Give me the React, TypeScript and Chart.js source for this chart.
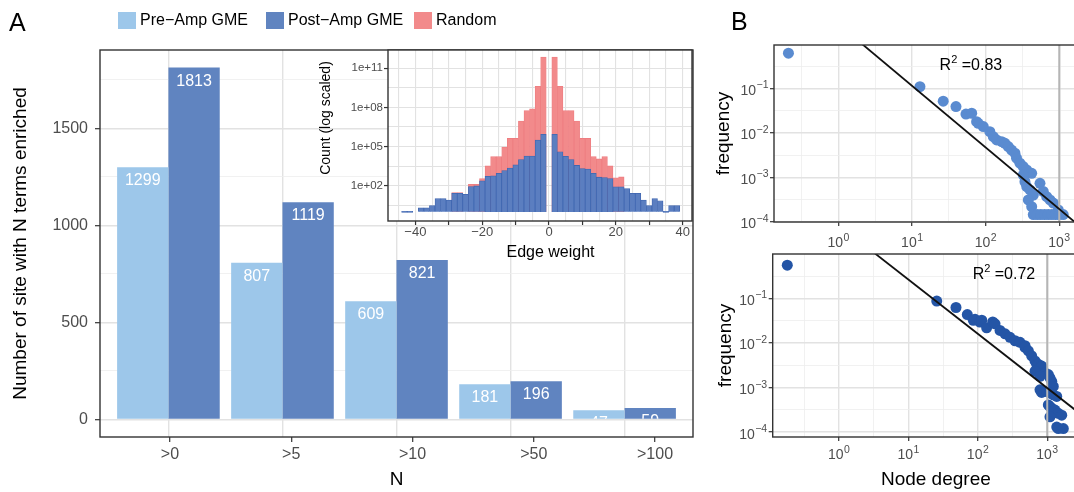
import React, { useEffect, useRef } from 'react';
import { Chart, registerables } from 'chart.js';

Chart.register(...registerables);

const FONT = '"Liberation Sans", Arial, Helvetica, sans-serif';
Chart.defaults.font.family = FONT;

const TICK_COLOR = '#4D4D4D';
const AXIS_COLOR = '#333333';
const GRID_MAJOR = '#E2E2E2';
const GRID_MINOR = '#EEEEEE';
const PRE_COLOR = '#9DC7EA';
const POST_COLOR = '#6084C0';
const RANDOM_COLOR = '#F28A8B';
const RANDOM_EDGE = '#EE7D80';
const INSET_BLUE = '#5B7EC0';
const INSET_BLUE_EDGE = '#3F66B0';
const TOP_POINT = '#5A8BD0';
const BOTTOM_POINT = '#2455A6';

// ---------------- Panel A (main bars)
const categories = ['>0', '>5', '>10', '>50', '>100'];
const preAmpGME = [1299, 807, 609, 181, 47];
const postAmpGME = [1813, 1119, 821, 196, 59];
const countTicks = [0, 500, 1000, 1500];
const countMinorTicks = [250, 750, 1250, 1750];

// ---------------- Panel A inset (edge weight histogram, log counts)
const edgeWeightBins = [-43.29, -41.63, -39.96, -38.3, -36.63, -34.97, -33.3, -31.64, -29.97, -28.31,
  -26.64, -24.98, -23.31, -21.65, -19.98, -18.32, -16.65, -14.99, -13.32, -11.66,
  -9.99, -8.33, -6.66, -5.0, -3.33, -1.67, 0, 1.67, 3.33, 5.0,
  6.66, 8.33, 9.99, 11.66, 13.32, 14.99, 16.65, 18.32, 19.98, 21.65,
  23.31, 24.98, 26.64, 28.31, 29.97, 31.64, 33.3, 34.97, 36.63, 38.3];
const postAmpEdgeCounts = [1, 1, null, 2, 2, 3, 10, 10, 8, 26,
  26, 22, 85, 95, 234, 513, 562, 891, 1413, 2239,
  3981, 10000, 18620, 18620, 316000, 851000, null, 851000, 39800, 17800,
  10000, 3550, 2040, 1900, 891, 447, 417, 347, 81, 81,
  60, 26, 26, 8, 3, 10, 7, 1, 3, 3];
const randomEdgeCounts = [null, null, null, null, null, null, null, null, null, 30,
  30, null, 129, 129, 347, 3240, 16600, 16600, 91200, 417000,
  417000, 8.9e6, 5.75e7, 7.76e7, 4.17e9, 7.24e11, null, 7.24e11, 4.17e9, 5.75e7,
  5.75e7, 8.9e6, 417000, 417000, 16600, 11200, 16600, 3240, 398, 468,
  null, null, null, null, null, null, null, null, null, null];
const edgeGridTicks = [-45, -40, -35, -30, -25, -20, -15, -10, -5, 0, 5, 10, 15, 20, 25, 30, 35, 40];
const edgeLabelTicks = [-40, -20, 0, 20, 40];
const logCountTicks = [2, 5, 8, 11];
const logCountMinorTicks = [0.5, 3.5, 6.5, 9.5];

// ---------------- Panel B (degree distributions)
const degreeTop = [0.209, 12.8, 26.5, 39.5, 54, 64.6, 75.3, 79.4, 92.9, 114,
  127, 141, 165, 183, 203, 225, 250, 263, 292, 324,
  361, 422, 324, 342, 361, 400, 444, 547, 607, 675,
  748, 830, 971, 380, 422, 444, 501, 562, 631, 708,
  794, 891, 1000, 1132];
const freqTop = [0.617, 0.109, 0.0513, 0.0389, 0.0264, 0.0275, 0.0178, 0.0163, 0.0138, 0.0106,
  0.00818, 0.00692, 0.00631, 0.00581, 0.0049, 0.0041, 0.00347, 0.00269, 0.00207, 0.00174,
  0.00146, 0.00123, 0.00112, 0.000794, 0.000617, 0.000519, 0.000398, 0.000733, 0.000479, 0.000366,
  0.000309, 0.000263, 0.000184, 0.000309, 0.000219, 0.000145, 0.000145, 0.000145, 0.000145, 0.000145,
  0.000145, 0.000145, 0.000145, 0.000145];
const fitTopDegree = [1, 2000];
const fitTopFreq = [2.75, 7.4e-5];
const r2Top = 0.83;

const degreeBottom = [0.18, 25.6, 48.5, 70.6, 86.1, 91.2, 107, 114, 134, 164,
  177, 209, 247, 291, 344, 406, 479, 479, 535, 597,
  667, 705, 745, 832, 929, 1096, 1161, 1038, 667, 787,
  1224, 787, 832, 984, 1096, 1224, 1371, 1038, 1096, 1161,
  1294, 1445, 1618, 1096, 1371, 1445, 1706];
const freqBottom = [0.556, 0.0871, 0.0624, 0.0433, 0.0321, 0.0339, 0.0295, 0.0324, 0.0219, 0.0295,
  0.0269, 0.0191, 0.016, 0.0134, 0.0112, 0.0103, 0.0087, 0.00794, 0.00664, 0.00513,
  0.00394, 0.00331, 0.00331, 0.00302, 0.00214, 0.00164, 0.00138, 0.00195, 0.00233, 0.00179,
  0.00106, 0.00089, 0.000776, 0.000813, 0.00075, 0.000685, 0.000631, 0.000407, 0.000372, 0.000341,
  0.000312, 0.000263, 0.00024, 0.00022, 0.00013, 0.00012, 0.00012];
const fitBottomDegree = [1, 6000];
const fitBottomFreq = [4.35, 1.1e-4];
const r2Bottom = 0.72;

const degreeCutoff = 1000;
const degreeExps = [0, 1, 2, 3];
const degreeMinorExps = [-0.5, 0.5, 1.5, 2.5, 3.5];
const freqExps = [-4, -3, -2, -1];
const freqMinorExps = [-3.5, -2.5, -1.5, -0.5];

// ---------------- helpers
type TickSpec = { value: number; label: string; mark: boolean; major: boolean };

const MINUS = '\u2212';
const fmtSigned = (v: number) => (v < 0 ? MINUS + Math.abs(v) : String(v));

function tickOptions(specs: TickSpec[], font: number, padding: number, tickLength: number, majorW = 1.4, minorW = 0.8) {
  return {
    afterBuildTicks: (s: any) => { s.ticks = specs.map((t) => ({ value: t.value })); },
    ticks: {
      autoSkip: false, maxRotation: 0, minRotation: 0, color: TICK_COLOR,
      font: { size: font }, padding,
      callback: (_v: any, i: number) => (specs[i] ? specs[i].label : ''),
    },
    grid: {
      offset: false,
      color: (c: any) => (specs[c.index] && specs[c.index].major ? GRID_MAJOR : GRID_MINOR),
      lineWidth: (c: any) => (specs[c.index] && specs[c.index].major ? majorW : minorW),
      tickColor: (c: any) => (specs[c.index] && specs[c.index].mark ? AXIS_COLOR : 'rgba(0,0,0,0)'),
      tickWidth: 1.2,
      tickLength,
    },
    border: { display: false },
  };
}

function panelPlugin(fill: boolean) {
  return {
    id: 'panelFrame',
    beforeDraw(chart: any) {
      if (!fill) return;
      const { left, top, right, bottom } = chart.chartArea;
      const ctx = chart.ctx;
      ctx.save();
      ctx.fillStyle = '#ffffff';
      ctx.fillRect(left, top, right - left, bottom - top);
      ctx.restore();
    },
    afterDraw(chart: any) {
      const { left, top, right, bottom } = chart.chartArea;
      const ctx = chart.ctx;
      ctx.save();
      ctx.strokeStyle = AXIS_COLOR;
      ctx.lineWidth = 1.4;
      ctx.strokeRect(left, top, right - left, bottom - top);
      ctx.restore();
    },
  };
}

const barLabelPlugin = {
  id: 'barLabels',
  afterDatasetsDraw(chart: any) {
    const ctx = chart.ctx;
    chart.data.datasets.forEach((ds: any, di: number) => {
      const meta = chart.getDatasetMeta(di);
      meta.data.forEach((bar: any, i: number) => {
        const { x, y, base, width } = bar.getProps(['x', 'y', 'base', 'width'], true);
        ctx.save();
        ctx.beginPath();
        ctx.rect(x - width / 2, y, width, base - y);
        ctx.clip();
        ctx.fillStyle = '#ffffff';
        ctx.font = `16px ${FONT}`;
        ctx.textAlign = 'center';
        ctx.textBaseline = 'alphabetic';
        ctx.fillText(String(ds.data[i].y), x, y + 18);
        ctx.restore();
      });
    });
  },
};

function drawPow(ctx: any, exp: number, x: number, yMid: number, align: 'center' | 'right') {
  const base = '10';
  const sup = exp < 0 ? MINUS + Math.abs(exp) : String(exp);
  ctx.font = `14px ${FONT}`;
  const wb = ctx.measureText(base).width;
  ctx.font = `10.5px ${FONT}`;
  const ws = ctx.measureText(sup).width;
  const total = wb + ws + 0.5;
  const left = align === 'center' ? x - total / 2 : x - total;
  ctx.textAlign = 'left';
  ctx.textBaseline = 'alphabetic';
  ctx.font = `14px ${FONT}`;
  ctx.fillText(base, left, yMid + 5);
  ctx.font = `10.5px ${FONT}`;
  ctx.fillText(sup, left + wb + 0.5, yMid - 1.5);
}

function degreePlugin(xLabelOffset: number, r2: number, r2x: number, r2y: number) {
  return {
    id: 'degreeLabels',
    afterDraw(chart: any) {
      const ctx = chart.ctx;
      const xs = chart.scales.x;
      const ys = chart.scales.y;
      const area = chart.chartArea;
      ctx.save();
      ctx.fillStyle = TICK_COLOR;
      degreeExps.forEach((e) => drawPow(ctx, e, xs.getPixelForValue(Math.pow(10, e)), area.bottom + xLabelOffset, 'center'));
      freqExps.forEach((e) => drawPow(ctx, e, area.left - 5.5, ys.getPixelForValue(Math.pow(10, e)) + 1.5, 'right'));
      // R^2 annotation
      const cx = xs.getPixelForValue(r2x);
      const cy = ys.getPixelForValue(r2y);
      ctx.fillStyle = '#000';
      ctx.font = `16px ${FONT}`;
      const wR = ctx.measureText('R').width;
      const rest = ' =' + r2.toFixed(2);
      const wRest = ctx.measureText(rest).width;
      ctx.font = `11px ${FONT}`;
      const w2 = ctx.measureText('2').width;
      const total = wR + w2 + wRest;
      let lx = cx - total / 2;
      ctx.textAlign = 'left';
      ctx.textBaseline = 'alphabetic';
      ctx.font = `16px ${FONT}`;
      ctx.fillText('R', lx, cy + 6);
      lx += wR;
      ctx.font = `11px ${FONT}`;
      ctx.fillText('2', lx, cy - 1);
      lx += w2;
      ctx.font = `16px ${FONT}`;
      ctx.fillText(rest, lx, cy + 6);
      ctx.restore();
    },
  };
}

const insetTitlePlugin = {
  id: 'insetTitles',
  afterDraw(chart: any) {
    const ctx = chart.ctx;
    const area = chart.chartArea;
    const x0 = chart.scales.x.getPixelForValue(0);
    ctx.save();
    ctx.fillStyle = '#000';
    ctx.textAlign = 'center';
    ctx.textBaseline = 'middle';
    ctx.font = `16px ${FONT}`;
    ctx.fillText('Edge weight', x0 + 1.5, area.bottom + 32);
    ctx.translate(area.left - 61.5, area.top + 68);
    ctx.rotate(-Math.PI / 2);
    ctx.font = `14px ${FONT}`;
    ctx.fillText('Count (log scaled)', 0, 0);
    ctx.restore();
  },
};

function xyData(xs: number[], ys: (number | null)[]) {
  return xs.map((x, i) => ({ x, y: ys[i] }));
}

// ---------------- configs
function mainConfig(): any {
  const ySpecs: TickSpec[] = [
    ...countTicks.map((v) => ({ value: v, label: String(v), mark: true, major: true })),
    ...countMinorTicks.map((v) => ({ value: v, label: '', mark: false, major: false })),
  ].sort((a, b) => a.value - b.value);
  const xSpecs: TickSpec[] = categories.map((c, i) => ({ value: i, label: '', mark: false, major: true }));
  const labelSpecs: TickSpec[] = categories.map((c, i) => ({ value: i, label: c, mark: true, major: true }));
  const xOpts = tickOptions(xSpecs, 16, 0, 0);
  const x2Opts = tickOptions(labelSpecs, 16, 3, 5);
  const yOpts = tickOptions(ySpecs, 16, 7, 5);
  return {
    type: 'bar',
    data: {
      datasets: [
        { label: 'Pre-Amp GME', data: xyData(categories.map((_, i) => i), preAmpGME), backgroundColor: PRE_COLOR, categoryPercentage: 0.9, barPercentage: 1, borderWidth: 0 },
        { label: 'Post-Amp GME', data: xyData(categories.map((_, i) => i), postAmpGME), backgroundColor: POST_COLOR, categoryPercentage: 0.9, barPercentage: 1, borderWidth: 0 },
      ],
    },
    options: {
      animation: false, responsive: false, devicePixelRatio: 1,
      layout: { padding: { left: 0, top: 50, right: 381, bottom: 0 } },
      plugins: { legend: { display: false }, tooltip: { enabled: false } },
      scales: {
        x: {
          ...xOpts, type: 'linear', min: -0.6, max: 4.6, offset: false,
          ticks: { ...xOpts.ticks, display: false },
          grid: { ...xOpts.grid, drawTicks: false },
          afterFit: (s: any) => { s.height = 0; },
        },
        x2: {
          ...x2Opts, type: 'linear', axis: 'x', position: 'bottom', min: -0.577, max: 4.313, offset: false,
          grid: { ...x2Opts.grid, drawOnChartArea: false },
          title: { display: true, text: 'N', color: '#000', font: { size: 19 }, padding: { top: 0, bottom: 0.6 } },
          afterFit: (s: any) => { s.height = 55; },
        },
        y: {
          ...yOpts, type: 'linear', min: -90.65, max: 1903.65, beginAtZero: false,
          title: { display: true, text: 'Number of site with N terms enriched', color: '#000', font: { size: 19 }, padding: { top: 9, bottom: 0 } },
          afterFit: (s: any) => { s.width = 100; },
        },
      },
    },
    plugins: [panelPlugin(true), barLabelPlugin],
  };
}

function insetConfig(): any {
  const xSpecs: TickSpec[] = edgeGridTicks.map((v) => ({
    value: v,
    label: edgeLabelTicks.includes(v) ? fmtSigned(v) : '',
    mark: v % 10 === 0,
    major: true,
  }));
  const ySpecs: TickSpec[] = [
    ...logCountTicks.map((e) => ({ value: Math.pow(10, e), label: '1e+' + String(e).padStart(2, '0'), mark: true, major: true })),
    ...logCountMinorTicks.map((e) => ({ value: Math.pow(10, e), label: '', mark: false, major: true })),
  ].sort((a, b) => a.value - b.value);
  const xOpts = tickOptions(xSpecs, 13, 0, 4, 1.1, 1.1);
  const yOpts = tickOptions(ySpecs, 11.5, 1, 4, 1.1, 1.1);
  const common = { grouped: false, barPercentage: 1, categoryPercentage: 1, base: 1, minBarLength: 1.5, borderSkipped: 'start' };
  return {
    type: 'bar',
    data: {
      datasets: [
        { label: 'Post-Amp GME', data: xyData(edgeWeightBins, postAmpEdgeCounts), backgroundColor: INSET_BLUE, borderColor: INSET_BLUE_EDGE, borderWidth: 0.8, ...common },
        { label: 'Random', data: xyData(edgeWeightBins, randomEdgeCounts), backgroundColor: RANDOM_COLOR, borderColor: RANDOM_EDGE, borderWidth: 0.8, ...common },
      ],
    },
    options: {
      animation: false, responsive: false, devicePixelRatio: 1,
      layout: { padding: { left: 312, top: 50, right: 382, bottom: 230 } },
      plugins: { legend: { display: false }, tooltip: { enabled: false } },
      scales: {
        x: { ...xOpts, type: 'linear', min: -48.2, max: 42.8, offset: false, afterFit: (s: any) => { s.height = 41; } },
        y: { ...yOpts, type: 'logarithmic', min: Math.pow(10, -0.71), max: Math.pow(10, 12.4), afterFit: (s: any) => { s.width = 76; } },
      },
    },
    plugins: [panelPlugin(true), insetTitlePlugin],
  };
}

function degreeConfig(opts: {
  degree: number[]; freq: number[]; fitX: number[]; fitY: number[]; color: string;
  xMin: number; xMax: number; yMin: number; yMax: number;
  padding: any; xHeight: number; yWidth: number; yTitlePad: number; xTitle: boolean;
  xLabelOffset: number; r2: number; r2x: number; r2y: number;
}): any {
  const xSpecs: TickSpec[] = [
    ...degreeExps.map((e) => ({ value: Math.pow(10, e), label: '', mark: true, major: true })),
    ...degreeMinorExps.filter((e) => e > opts.xMin && e < opts.xMax).map((e) => ({ value: Math.pow(10, e), label: '', mark: false, major: false })),
  ].sort((a, b) => a.value - b.value);
  const ySpecs: TickSpec[] = [
    ...freqExps.map((e) => ({ value: Math.pow(10, e), label: '', mark: true, major: true })),
    ...freqMinorExps.map((e) => ({ value: Math.pow(10, e), label: '', mark: false, major: false })),
  ].sort((a, b) => a.value - b.value);
  const xOpts = tickOptions(xSpecs, 14, 0, 4);
  const yOpts = tickOptions(ySpecs, 14, 0, 4);
  const yMinV = Math.pow(10, opts.yMin);
  const yMaxV = Math.pow(10, opts.yMax);
  return {
    type: 'scatter',
    data: {
      datasets: [
        { data: xyData(opts.fitX, opts.fitY), showLine: true, borderColor: '#111111', borderWidth: 1.8, pointRadius: 0 },
        { data: [{ x: degreeCutoff, y: yMinV }, { x: degreeCutoff, y: yMaxV }], showLine: true, borderColor: '#B5B5B5', borderWidth: 2, pointRadius: 0 },
        { data: xyData(opts.degree, opts.freq), backgroundColor: opts.color, borderWidth: 0, pointRadius: 5.5 },
      ],
    },
    options: {
      animation: false, responsive: false, devicePixelRatio: 1,
      layout: { padding: opts.padding },
      plugins: { legend: { display: false }, tooltip: { enabled: false } },
      scales: {
        x: {
          ...xOpts, type: 'logarithmic', min: Math.pow(10, opts.xMin), max: Math.pow(10, opts.xMax),
          title: { display: opts.xTitle, text: 'Node degree', color: '#000', font: { size: 19 }, padding: { top: 0, bottom: 0.6 } },
          afterFit: (s: any) => { s.height = opts.xHeight; },
        },
        y: {
          ...yOpts, type: 'logarithmic', min: yMinV, max: yMaxV,
          title: { display: true, text: 'frequency', color: '#000', font: { size: 19 }, padding: { top: opts.yTitlePad, bottom: 0 } },
          afterFit: (s: any) => { s.width = opts.yWidth; },
        },
      },
    },
    plugins: [panelPlugin(true), degreePlugin(opts.xLabelOffset, opts.r2, opts.r2x, opts.r2y)],
  };
}

const legendItems = [
  { label: 'Pre\u2212Amp GME', color: PRE_COLOR, x: 118 },
  { label: 'Post\u2212Amp GME', color: POST_COLOR, x: 266 },
  { label: 'Random', color: RANDOM_COLOR, x: 414 },
];

const B_WIDTH = 1120;

export default function App() {
  const mainRef = useRef<HTMLCanvasElement>(null);
  const insetRef = useRef<HTMLCanvasElement>(null);
  const topRef = useRef<HTMLCanvasElement>(null);
  const bottomRef = useRef<HTMLCanvasElement>(null);

  useEffect(() => {
    const charts: Chart[] = [];
    charts.push(new Chart(mainRef.current as HTMLCanvasElement, mainConfig()));
    charts.push(new Chart(insetRef.current as HTMLCanvasElement, insetConfig()));
    charts.push(new Chart(topRef.current as HTMLCanvasElement, degreeConfig({
      degree: degreeTop, freq: freqTop, fitX: fitTopDegree, fitY: fitTopFreq, color: TOP_POINT,
      xMin: -0.876, xMax: 3.29, yMin: -4.005, yMax: -0.027,
      padding: { left: 705, top: 45, right: B_WIDTH - 1080.6, bottom: 240 },
      xHeight: 30, yWidth: 69, yTitlePad: 7.5, xTitle: false, xLabelOffset: 20,
      r2: r2Top, r2x: 63, r2y: 0.355,
    })));
    charts.push(new Chart(bottomRef.current as HTMLCanvasElement, degreeConfig({
      degree: degreeBottom, freq: freqBottom, fitX: fitBottomDegree, fitY: fitBottomFreq, color: BOTTOM_POINT,
      xMin: -0.955, xMax: 3.746, yMin: -4.11, yMax: -0.005,
      padding: { left: 705, top: 254, right: B_WIDTH - 1099, bottom: 0 },
      xHeight: 55, yWidth: 67.7, yTitlePad: 9, xTitle: true, xLabelOffset: 17,
      r2: r2Bottom, r2x: 238, r2y: 0.38,
    })));
    return () => charts.forEach((c) => c.destroy());
  }, []);

  const cs = (w: number): React.CSSProperties => ({ position: 'absolute', left: 0, top: 0, width: w, height: 492 });

  return (
    <div style={{ position: 'absolute', left: 0, top: 0, width: 1074, height: 492, overflow: 'hidden', background: '#fff', fontFamily: FONT }}>
      <canvas ref={mainRef} width={1074} height={492} style={cs(1074)} />
      <canvas ref={insetRef} width={1074} height={492} style={cs(1074)} />
      <canvas ref={topRef} width={B_WIDTH} height={492} style={cs(B_WIDTH)} />
      <canvas ref={bottomRef} width={B_WIDTH} height={492} style={cs(B_WIDTH)} />
      {legendItems.map((it) => (
        <React.Fragment key={it.label}>
          <div style={{ position: 'absolute', left: it.x, top: 11.5, width: 17.5, height: 17.5, background: it.color }} />
          <div style={{ position: 'absolute', left: it.x + 22, top: 11.5, fontSize: 16, lineHeight: '16px', color: '#000', whiteSpace: 'nowrap' }}>{it.label}</div>
        </React.Fragment>
      ))}
      <div style={{ position: 'absolute', left: 9, top: 9.6, fontSize: 25, lineHeight: '25px', color: '#000' }}>A</div>
      <div style={{ position: 'absolute', left: 731, top: 8.6, fontSize: 25, lineHeight: '25px', color: '#000' }}>B</div>
    </div>
  );
}
